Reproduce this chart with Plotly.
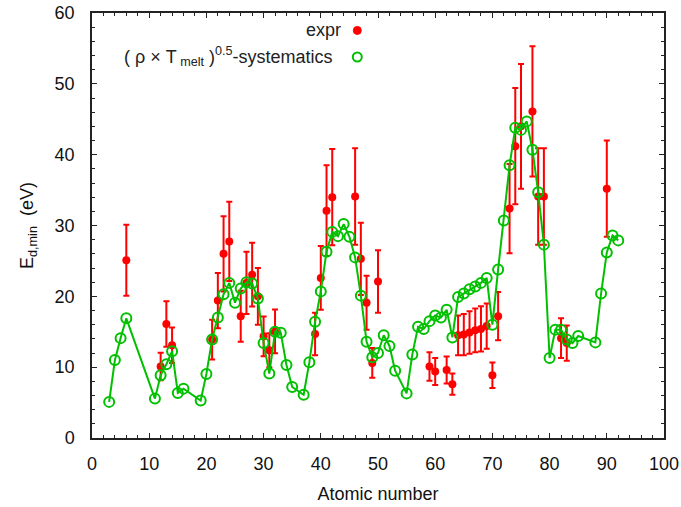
import plotly.graph_objects as go

# Experimental data (red, with error bars)
expr_z = [6, 12, 13, 14, 21, 22, 23, 24, 26, 27, 28, 29, 30, 31, 32,
          39, 40, 41, 42, 46, 47, 48, 49, 50,
          59, 60, 62, 63, 64, 65, 66, 67, 68, 69, 70, 71,
          73, 74, 75, 77, 78, 79, 82, 83, 90]
expr_val = [25.1, 10.1, 16.1, 13.1, 13.9, 19.4, 26.0, 27.75, 17.2, 21.9, 23.05, 20.0, 14.35, 12.4, 15.05,
            14.7, 22.6, 32.1, 34.0, 34.1, 25.3, 19.1, 10.6, 22.1,
            10.1, 9.4, 9.6, 7.6, 14.5, 14.6, 14.9, 15.2, 15.4, 15.8, 8.85, 17.2,
            32.4, 41.2, 44.0, 46.1, 34.1, 34.1, 14.1, 13.4, 35.2]
expr_err = [5.0, 1.95, 3.2, 2.5, 2.8, 3.9, 5.3, 5.6, 3.6, 4.4, 4.5, 4.0, 2.8, 2.4, 3.1,
            3.0, 4.5, 6.4, 6.8, 6.8, 5.1, 3.8, 2.1, 4.4,
            2.0, 1.9, 1.9, 1.5, 2.8, 2.9, 3.0, 3.1, 3.2, 3.2, 1.8, 3.4,
            6.3, 8.2, 8.8, 9.2, 6.8, 6.8, 2.8, 2.5, 6.8]

# (rho x T_melt)^0.5 systematics (green)
sys_z = [3, 4, 5, 6, 11, 12, 13, 14, 15, 16, 19, 20, 21, 22, 23, 24, 25, 26, 27, 28,
         29, 30, 31, 32, 33, 34, 35, 37, 38, 39, 40, 41, 42, 43, 44, 45, 46, 47, 48, 49,
         50, 51, 52, 53, 55, 56, 57, 58, 59, 60, 61, 62, 63, 64, 65, 66, 67, 68, 69, 70,
         71, 72, 73, 74, 75, 76, 77, 78, 79, 80, 81, 82, 83, 84, 85, 88, 89, 90, 91, 92]
sys_val = [5.1, 11.0, 14.1, 16.9, 5.56, 8.86, 10.4, 12.25, 6.36, 6.97, 5.28, 9.05, 13.9, 17.0, 20.3, 21.9, 19.1, 21.1, 22.0, 21.8,
           19.7, 13.4, 9.1, 15.0, 14.85, 10.3, 7.2, 6.1, 10.7, 16.4, 20.7, 26.3, 29.1, 28.5, 30.2, 28.4, 25.5, 20.1, 13.6, 11.4,
           12.0, 14.5, 13.0, 9.5, 6.3, 11.8, 15.7, 15.4, 16.5, 17.3, 17.0, 18.1, 14.2, 19.9, 20.4, 21.0, 21.4, 21.9, 22.6, 16.0,
           23.8, 30.7, 38.5, 43.8, 43.5, 44.7, 40.7, 34.7, 27.3, 11.3, 15.3, 15.3, 13.9, 13.4, 14.4, 13.5, 20.4, 26.2, 28.6, 27.9]

RED = "#ff0000"
GREEN = "#00c000"
AXIS = "#222222"
FONT = "Liberation Sans, Arial, sans-serif"

fig = go.Figure()
fig.add_trace(go.Scatter(
    x=expr_z, y=expr_val, mode="markers", name="expr",
    marker=dict(color=RED, size=8, symbol="circle"),
    error_y=dict(type="data", array=expr_err, color=RED, thickness=2, width=3),
    showlegend=False,
))
fig.add_trace(go.Scatter(
    x=sys_z, y=sys_val, mode="lines+markers", name="systematics",
    line=dict(color=GREEN, width=2),
    marker=dict(color=GREEN, size=10, symbol="circle-open", line=dict(width=2, color=GREEN)),
    showlegend=False,
))

axis_common = dict(
    showgrid=False, zeroline=False, showline=True, linecolor=AXIS, linewidth=1.5,
    mirror="allticks", ticks="inside", ticklen=5, tickwidth=1, tickcolor=AXIS,
    tickfont=dict(family=FONT, size=18, color="#111111"),
    automargin=False,
)
fig.update_xaxes(range=[0, 100], dtick=10, tick0=0,
                 minor=dict(dtick=2, ticks="inside", ticklen=3, tickcolor=AXIS),
                 title=dict(text="Atomic number", font=dict(family=FONT, size=18, color="#111111"), standoff=14),
                 ticklabelstandoff=9,
                 **axis_common)
fig.update_yaxes(range=[0, 60], dtick=10, tick0=0,
                 minor=dict(dtick=2, ticks="inside", ticklen=3, tickcolor=AXIS),
                 title=dict(text="E<sub>d,min</sub>  (eV)", font=dict(family=FONT, size=18, color="#111111"), standoff=16),
                 ticklabelstandoff=12,
                 **axis_common)

# Legend (text left, symbol right, as in the original)
fig.add_annotation(xref="paper", yref="paper", x=0.439, y=0.959, xanchor="right", yanchor="middle",
                   text="expr", showarrow=False, font=dict(family=FONT, size=18, color="#222222"))
fig.add_annotation(xref="paper", yref="paper", x=0.424, y=0.8965, xanchor="right", yanchor="middle",
                   text="( ρ × T<sub> melt</sub> )<sup>0.5</sup>-systematics", showarrow=False,
                   font=dict(family=FONT, size=18, color="#222222"))
fig.add_shape(type="circle", xref="paper", yref="paper", xsizemode="pixel", ysizemode="pixel",
              xanchor=0.4638, yanchor=0.959, x0=-4, x1=4, y0=-4, y1=4,
              fillcolor=RED, line=dict(color=RED, width=1))
fig.add_shape(type="circle", xref="paper", yref="paper", xsizemode="pixel", ysizemode="pixel",
              xanchor=0.4638, yanchor=0.8965, x0=-4.5, x1=4.5, y0=-4.5, y1=4.5,
              fillcolor="rgba(0,0,0,0)", line=dict(color=GREEN, width=2))

fig.update_layout(
    width=681, height=507,
    margin=dict(l=92, r=17, t=13, b=69),
    paper_bgcolor="white", plot_bgcolor="white",
    font=dict(family=FONT),
)

fig.write_html("out.html", config={"displayModeBar": False},
               post_script="document.body.style.margin='0';document.body.style.padding='0';")
